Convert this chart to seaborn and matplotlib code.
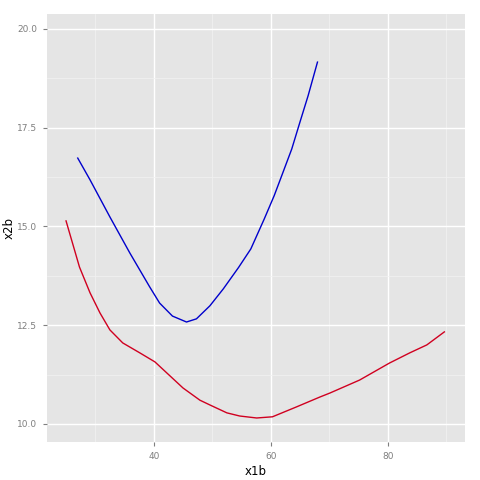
import seaborn as sns
import matplotlib.pyplot as plt
import pandas as pd
from matplotlib.ticker import MultipleLocator

# curve values
blue_x = [27.0, 29.1, 32.5, 35.9, 39.3, 41.0, 43.2, 45.6, 47.3, 49.6, 51.9, 54.5, 56.6, 58.9, 60.6, 61.9,
          63.6, 65.0, 66.4, 68.0]
blue_y = [16.73, 16.18, 15.24, 14.33, 13.47, 13.06, 12.73, 12.58, 12.66, 12.99, 13.42, 13.96, 14.43, 15.19,
          15.78, 16.29, 16.96, 17.64, 18.31, 19.16]

red_x = [25.0, 27.3, 29.1, 30.8, 32.5, 34.7, 37.6, 40.2, 45.0, 47.9, 49.6, 52.5, 54.7, 57.6, 60.3, 64.4, 68.4,
         70.1, 75.2, 80.3, 83.8, 86.7, 89.7]
red_y = [15.14, 13.97, 13.32, 12.81, 12.38, 12.05, 11.80, 11.57, 10.91, 10.60, 10.48, 10.28, 10.20, 10.15, 10.18,
         10.43, 10.68, 10.78, 11.11, 11.54, 11.80, 12.00, 12.33]

df = pd.DataFrame({
    "x1b": blue_x + red_x,
    "x2b": blue_y + red_y,
    "grp": ["b"] * len(blue_x) + ["r"] * len(red_x),
})

fig = plt.figure(figsize=(4.8, 4.8), dpi=100)
ax = fig.add_axes([0.098, 0.079, 0.871, 0.892])
ax.set_facecolor("#E5E5E5")

sns.lineplot(data=df, x="x1b", y="x2b", hue="grp", palette={"b": "#0000CC", "r": "#D00020"},
             sort=False, linewidth=1.0, legend=False, ax=ax)

ax.set_xlim(21.75, 93.25)
ax.set_ylim(9.54, 20.38)
ax.xaxis.set_major_locator(MultipleLocator(20))
ax.xaxis.set_minor_locator(MultipleLocator(10))
ax.yaxis.set_minor_locator(MultipleLocator(1.25))
ax.set_yticks([10, 12.5, 15, 17.5, 20])
ax.set_yticklabels(["10.0", "12.5", "15.0", "17.5", "20.0"])

ax.grid(which="major", color="white", linewidth=1.0)
ax.grid(which="minor", color="#F2F2F2", linewidth=0.5)
ax.set_axisbelow(True)
for s in ax.spines.values():
    s.set_visible(False)

ax.tick_params(which="major", length=3, color="#7F7F7F", labelsize=6.5, labelcolor="#7F7F7F", pad=4)
ax.tick_params(which="minor", length=0)
ax.set_xlabel("x1b", fontsize=8.5)
ax.set_ylabel("x2b", fontsize=8.5)
ax.xaxis.set_label_coords(0.5, -0.054)
ax.yaxis.set_label_coords(-0.074, 0.5)

fig.savefig("out.png", dpi=100)
